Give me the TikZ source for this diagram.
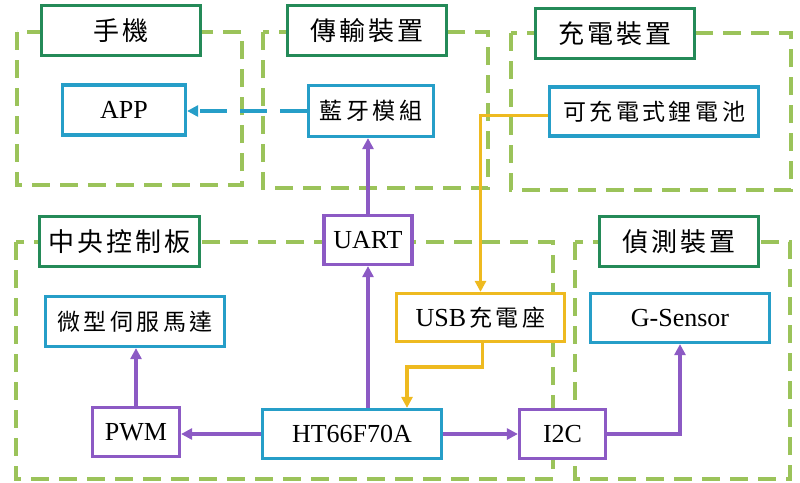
\documentclass[tikz,border=0pt]{standalone}
\usepackage{fontspec}
\setmainfont{Liberation Serif}
\newfontfamily\cjk{Noto Sans CJK TC}
\usetikzlibrary{arrows.meta}
\definecolor{titlegreen}{RGB}{36,138,88}
\definecolor{boxblue}{RGB}{38,158,200}
\definecolor{boxpurple}{RGB}{140,90,196}
\definecolor{boxyellow}{RGB}{238,186,32}
\definecolor{panelgreen}{RGB}{155,195,90}
\newcommand\cg{\hspace{3pt}}
\newcommand\cgs{\hspace{3.5pt}}
\tikzset{
  panel/.style={draw=panelgreen, line width=3.2pt, dash pattern=on 18pt off 10pt},
  basebox/.style={draw, line width=3.2pt, fill=white, inner sep=0pt, anchor=center, align=center},
  titlebox/.style={basebox, draw=titlegreen, minimum width=159pt, minimum height=50pt, font=\fontsize{26}{30}\selectfont\cjk},
  bluebox/.style={basebox, draw=boxblue, minimum height=50pt, font=\fontsize{26}{30}\selectfont},
  purplebox/.style={basebox, draw=boxpurple, minimum height=49pt, font=\fontsize{26}{30}\selectfont},
  yellowbox/.style={basebox, draw=boxyellow, minimum height=49pt, font=\fontsize{26}{30}\selectfont},
  conn/.style={line width=3.2pt, -{Triangle[length=11pt,width=11pt]}},
  pconn/.style={conn, draw=boxpurple},
  yconn/.style={conn, draw=boxyellow},
  bconn/.style={conn, draw=boxblue, dash pattern=on 27pt off 13pt},
}
\begin{document}
\begin{tikzpicture}[x=1pt,y=-1pt]
\useasboundingbox (0,0) rectangle (800,482);
% panels
\draw[panel] (17,32) rectangle (242,185);
\draw[panel] (263,32) rectangle (488,188);
\draw[panel] (511,33) rectangle (791,190);
\draw[panel] (16,242) rectangle (553,479);
\draw[panel] (575,242) rectangle (790,479);
% titles
\node[titlebox] (t1) at (121,30.5) {手\cg 機};
\node[titlebox] (t2) at (367,30.5) {傳\cg 輸\cg 裝\cg 置};
\node[titlebox] (t3) at (615,33.5) {充\cg 電\cg 裝\cg 置};
\node[titlebox, minimum width=160pt] (t4) at (119.5,241.5) {中\cg 央\cg 控\cg 制\cg 板};
\node[titlebox] (t5) at (679,241.5) {偵\cg 測\cg 裝\cg 置};
% boxes
\node[bluebox, minimum width=123pt] (app) at (124,110) {APP};
\node[bluebox, minimum width=125pt, minimum height=51pt] (bt) at (371,111) {\fontsize{23}{28}\cjk 藍\cgs 牙\cgs 模\cgs 組};
\node[bluebox, minimum width=209pt, minimum height=49pt] (bat) at (654,111.5) {\fontsize{23}{28}\cjk 可\cgs 充\cgs 電\cgs 式\cgs 鋰\cgs 電\cgs 池};
\node[bluebox, minimum width=179pt] (motor) at (135,321.5) {\fontsize{23}{28}\cjk 微\cgs 型\cgs 伺\cgs 服\cgs 馬\cgs 達};
\node[purplebox, minimum width=87pt] (pwm) at (136,432) {PWM};
\node[purplebox, minimum width=88pt] (uart) at (368,240) {UART};
\node[yellowbox, minimum width=168pt, minimum height=48pt] (usb) at (480.5,317.5) {USB{\fontsize{23}{28}\cjk \cg 充\cgs 電\cgs 座}};
\node[bluebox, minimum width=179pt, minimum height=49pt] (gs) at (680,318) {G-Sensor};
\node[bluebox, minimum width=179pt, minimum height=49pt] (ht) at (352,434) {HT66F70A};
\node[purplebox, minimum width=86pt] (i2c) at (562.5,434) {I2C};
% connectors
\draw[bconn] (bt.west) -- (bt.west -| app.east);
\draw[pconn] (ht.north -| uart.south) -- (uart.south);
\draw[pconn] (uart.north) -- (uart.north |- bt.south);
\draw[pconn] (ht.west) -- (ht.west -| pwm.east);
\draw[pconn] (pwm.north) -- (pwm.north |- motor.south);
\draw[pconn] (ht.east) -- (ht.east -| i2c.west);
\draw[pconn] (i2c.east) -| (gs.south);
\draw[yconn] ([yshift=-4pt]bat.west) -| (usb.north);
\coordinate (bend) at (407,367);
\draw[yconn] ([xshift=2pt]usb.south) |- (bend) -- (bend |- ht.north);
\end{tikzpicture}
\end{document}
